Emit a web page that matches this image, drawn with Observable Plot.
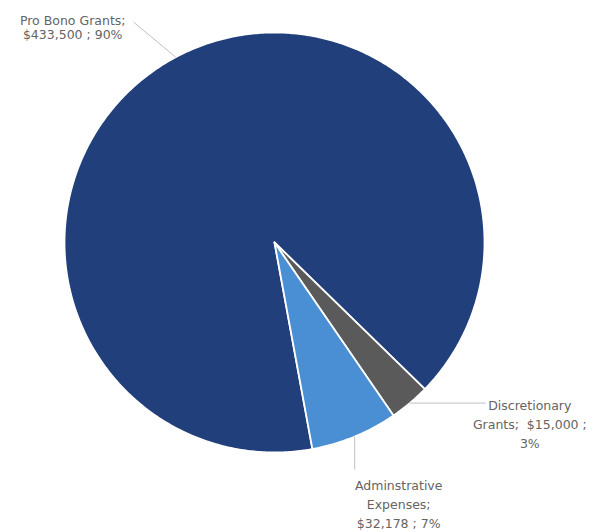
<!DOCTYPE html>
<html>
<head>
<meta charset="utf-8">
<script src="https://cdn.jsdelivr.net/npm/d3@7"></script>
<script src="https://cdn.jsdelivr.net/npm/@observablehq/plot@0.6"></script>
<style>
  html, body { margin: 0; padding: 0; background: #fff; }
  #chart { width: 597px; height: 532px; }
</style>
</head>
<body>
<div id="chart"></div>
<script>
// ---- data ----
const categories = ["Pro Bono Grants", "Discretionary Grants", "Adminstrative Expenses"];
const values = [433500, 15000, 32178];
const labelLines = [
  "Pro Bono Grants;\n$433,500 ; 90%",
  "Discretionary\nGrants;  $15,000 ;\n3%",
  "Adminstrative\nExpenses;\n$32,178 ; 7%"
];
const colors = ["#21407b", "#5a5a5a", "#4a8fd4"];

// ---- layout ----
const W = 597, H = 532;
const CX = 274, CY = 242, R = 210;      // pixel centre and radius
const startDeg = 169.6;                  // first-slice angle (clockwise from 12 o'clock)

const rows = categories.map((c, i) => ({category: c, value: values[i], label: labelLines[i]}));
const arcs = d3.pie().sort(null).value(d => d.value)
  .startAngle(startDeg * Math.PI / 180)
  .endAngle(startDeg * Math.PI / 180 + 2 * Math.PI)(rows);

// polygon outline of each slice (in radius units)
const pts = [];
for (const a of arcs) {
  const n = Math.max(2, Math.ceil((a.endAngle - a.startAngle) / 0.01));
  pts.push({key: a.data.category, x: 0, y: 0});
  for (let k = 0; k <= n; k++) {
    const t = a.startAngle + (a.endAngle - a.startAngle) * k / n;
    pts.push({key: a.data.category, x: Math.sin(t), y: Math.cos(t)});
  }
}

const px = v => v / R;   // pixel offset -> data units
const mids = arcs.map(a => {
  const t = (a.startAngle + a.endAngle) / 2;
  return {category: a.data.category, label: a.data.label, x: Math.sin(t), y: Math.cos(t)};
});
// leader line offsets (pixels) and text offsets relative to leader end
const leaderOff = [[-42, 35], [76, 0], [0, -33]];
const textOff = [[-61, -5], [44, -20], [44, -33]];
const lineHeights = [1.2, 1.5, 1.54];

const links = mids.map((m, i) => ({
  x1: m.x, y1: m.y,
  x2: m.x + px(leaderOff[i][0]), y2: m.y + px(leaderOff[i][1])
}));
const texts = mids.map((m, i) => ({
  label: m.label,
  x: links[i].x2 + px(textOff[i][0]),
  y: links[i].y2 + px(textOff[i][1]),
  lh: lineHeights[i]
}));

const chart = Plot.plot({
  width: W, height: H,
  margin: 0,
  x: {domain: [-CX / R, (W - CX) / R], axis: null},
  y: {domain: [-(H - CY) / R, CY / R], axis: null},
  color: {domain: categories, range: colors},
  style: {background: "#fff"},
  marks: [
    Plot.line(pts, {x: "x", y: "y", z: "key", fill: "key", stroke: "white", strokeWidth: 1.8, curve: "linear-closed"}),
    Plot.link(links, {x1: "x1", y1: "y1", x2: "x2", y2: "y2", stroke: "#bfbfbf", strokeWidth: 1}),
    ...texts.map(t => Plot.text([t], {
      x: "x", y: "y", text: "label", textAnchor: "middle", lineAnchor: "middle",
      lineHeight: t.lh, fill: "#646464", fontSize: 12.5, fontFamily: "DejaVu Sans"
    }))
  ]
});
document.getElementById("chart").appendChild(chart);
</script>
</body>
</html>
